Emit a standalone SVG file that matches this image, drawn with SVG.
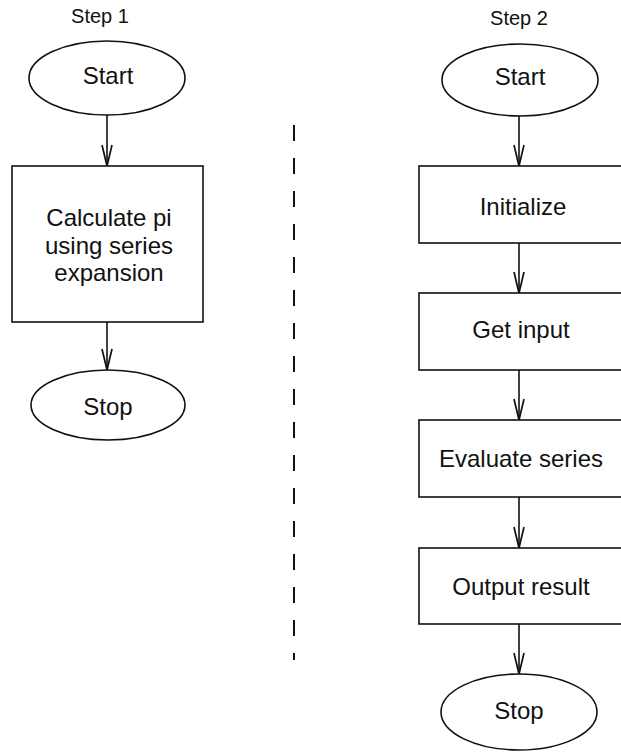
<svg xmlns="http://www.w3.org/2000/svg" width="621" height="753" viewBox="0 0 621 753">
<defs>
<style>
.shape{fill:#fff;stroke:#111;stroke-width:1.6}
.lbl{font-family:"Liberation Sans",Arial,sans-serif;font-size:24px;fill:#111;text-anchor:middle}
.hdr{font-family:"Liberation Sans",Arial,sans-serif;font-size:20px;fill:#111;text-anchor:middle}
.conn{stroke:#111;stroke-width:1.6;fill:none}
.div{stroke:#111;stroke-width:2;stroke-dasharray:16 17;fill:none}
</style>
<marker id="v" markerUnits="userSpaceOnUse" markerWidth="26" markerHeight="16" viewBox="-23 -8 26 16" refX="0" refY="0" orient="auto">
<path d="M-21,-5 L0,0 L-21,5" fill="none" stroke="#111" stroke-width="1.7"/>
</marker>
</defs>
<g id="headers">
<text class="hdr" x="100" y="23">Step 1</text>
<text class="hdr" x="519" y="25">Step 2</text>
</g>
<g id="connectors">
<line class="conn" x1="107" y1="115" x2="107" y2="166" marker-end="url(#v)"/>
<line class="conn" x1="107" y1="322" x2="107" y2="370" marker-end="url(#v)"/>
<line class="conn" x1="519" y1="116" x2="519" y2="166" marker-end="url(#v)"/>
<line class="conn" x1="519" y1="243" x2="519" y2="293" marker-end="url(#v)"/>
<line class="conn" x1="519" y1="370" x2="519" y2="420" marker-end="url(#v)"/>
<line class="conn" x1="519" y1="497" x2="519" y2="548" marker-end="url(#v)"/>
<line class="conn" x1="519" y1="624" x2="519" y2="674" marker-end="url(#v)"/>
</g>
<g id="divider">
<line class="div" x1="294" y1="125" x2="294" y2="660"/>
</g>
<g id="s1-start">
<ellipse class="shape" cx="107" cy="78" rx="78" ry="37"/>
<text class="lbl" x="108" y="84">Start</text>
</g>
<g id="s1-calc">
<rect class="shape" x="12" y="166" width="191" height="156"/>
<text class="lbl" x="109" y="226">Calculate pi</text>
<text class="lbl" x="109" y="254">using series</text>
<text class="lbl" x="109" y="281">expansion</text>
</g>
<g id="s1-stop">
<ellipse class="shape" cx="108" cy="405" rx="77" ry="35"/>
<text class="lbl" x="108" y="415">Stop</text>
</g>
<g id="s2-start">
<ellipse class="shape" cx="520" cy="80" rx="78" ry="36"/>
<text class="lbl" x="520" y="85">Start</text>
</g>
<g id="s2-init">
<rect class="shape" x="419" y="166" width="206" height="77"/>
<text class="lbl" x="523" y="215">Initialize</text>
</g>
<g id="s2-input">
<rect class="shape" x="419" y="293" width="206" height="77"/>
<text class="lbl" x="521" y="338">Get input</text>
</g>
<g id="s2-eval">
<rect class="shape" x="419" y="420" width="206" height="77"/>
<text class="lbl" x="521" y="467">Evaluate series</text>
</g>
<g id="s2-output">
<rect class="shape" x="419" y="548" width="206" height="76"/>
<text class="lbl" x="521" y="595">Output result</text>
</g>
<g id="s2-stop">
<ellipse class="shape" cx="519" cy="712" rx="78" ry="38"/>
<text class="lbl" x="519" y="719">Stop</text>
</g>
</svg>
